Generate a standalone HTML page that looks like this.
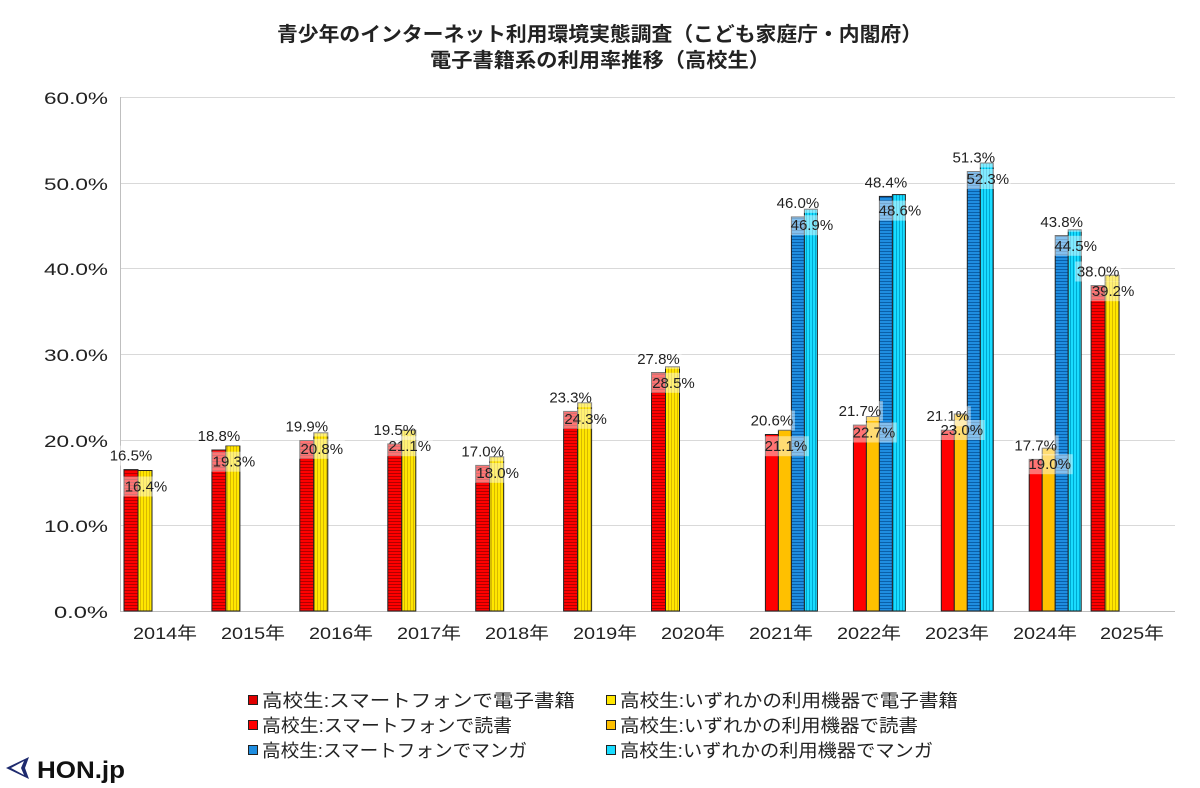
<!DOCTYPE html>
<html><head><meta charset="utf-8"><style>
html,body{margin:0;padding:0;background:#fff}
svg{display:block}
text{font-family:"Liberation Sans","Noto Sans CJK JP",sans-serif}
.t{font-size:20px;font-weight:bold;fill:#222}
.ax{font-size:17px;fill:#222}
.lb{font-size:15px;fill:#222;text-anchor:middle}
.lg{font-size:18px;fill:#222}
.bx{fill:#fff;fill-opacity:.45}
</style></head><body>
<svg width="1200" height="788" viewBox="0 0 1200 788" xmlns="http://www.w3.org/2000/svg">
<defs>
<pattern id="pr" width="4" height="3" patternUnits="userSpaceOnUse"><rect width="4" height="3" fill="#f00"/><rect y="2" width="4" height="1" fill="#b00000"/></pattern>
<pattern id="py" width="3" height="4" patternUnits="userSpaceOnUse"><rect width="3" height="4" fill="#ffe600"/><rect x="2" width="1" height="4" fill="#d8b800"/></pattern>
<pattern id="pb" width="4" height="3" patternUnits="userSpaceOnUse"><rect width="4" height="3" fill="#1f8de0"/><rect y="2" width="4" height="1" fill="#0a5fa8"/></pattern>
<pattern id="pc" width="3" height="4" patternUnits="userSpaceOnUse"><rect width="3" height="4" fill="#19dcff"/><rect x="2" width="1" height="4" fill="#00a8d0"/></pattern>
</defs>
<text class="t" x="277" y="41" textLength="645" lengthAdjust="spacingAndGlyphs">青少年のインターネット利用環境実態調査（こども家庭庁・内閣府）</text>
<text class="t" x="430" y="67" textLength="340" lengthAdjust="spacingAndGlyphs">電子書籍系の利用率推移（高校生）</text>
<g stroke="#d9d9d9" stroke-width="1">
<line x1="120" y1="97.5" x2="1175" y2="97.5"/><line x1="120" y1="183.5" x2="1175" y2="183.5"/><line x1="120" y1="268.5" x2="1175" y2="268.5"/><line x1="120" y1="354.5" x2="1175" y2="354.5"/><line x1="120" y1="440.5" x2="1175" y2="440.5"/><line x1="120" y1="525.5" x2="1175" y2="525.5"/>
</g>
<line x1="120.5" y1="97" x2="120.5" y2="611" stroke="#bfbfbf"/>
<line x1="120" y1="611.5" x2="1175" y2="611.5" stroke="#bfbfbf"/>
<g class="ax">
<text x="44" y="104" textLength="64" lengthAdjust="spacingAndGlyphs">60.0%</text><text x="44" y="190" textLength="64" lengthAdjust="spacingAndGlyphs">50.0%</text><text x="44" y="275" textLength="64" lengthAdjust="spacingAndGlyphs">40.0%</text><text x="44" y="361" textLength="64" lengthAdjust="spacingAndGlyphs">30.0%</text><text x="44" y="447" textLength="64" lengthAdjust="spacingAndGlyphs">20.0%</text><text x="44" y="532" textLength="64" lengthAdjust="spacingAndGlyphs">10.0%</text><text x="54" y="618" textLength="54" lengthAdjust="spacingAndGlyphs">0.0%</text>
</g>
<g class="ax">
<text x="133" y="639" textLength="64" lengthAdjust="spacingAndGlyphs">2014年</text><text x="221" y="639" textLength="64" lengthAdjust="spacingAndGlyphs">2015年</text><text x="309" y="639" textLength="64" lengthAdjust="spacingAndGlyphs">2016年</text><text x="397" y="639" textLength="64" lengthAdjust="spacingAndGlyphs">2017年</text><text x="485" y="639" textLength="64" lengthAdjust="spacingAndGlyphs">2018年</text><text x="573" y="639" textLength="64" lengthAdjust="spacingAndGlyphs">2019年</text><text x="661" y="639" textLength="64" lengthAdjust="spacingAndGlyphs">2020年</text><text x="749" y="639" textLength="64" lengthAdjust="spacingAndGlyphs">2021年</text><text x="837" y="639" textLength="64" lengthAdjust="spacingAndGlyphs">2022年</text><text x="925" y="639" textLength="64" lengthAdjust="spacingAndGlyphs">2023年</text><text x="1013" y="639" textLength="64" lengthAdjust="spacingAndGlyphs">2024年</text><text x="1100" y="639" textLength="64" lengthAdjust="spacingAndGlyphs">2025年</text>
</g>
<g stroke="#222" stroke-width="1">
<rect x="124" y="469.6" width="14" height="141.4" fill="url(#pr)"/><rect x="138" y="470.5" width="14" height="140.5" fill="url(#py)"/>
<rect x="211.9" y="450" width="14" height="161" fill="url(#pr)"/><rect x="225.9" y="445.7" width="14" height="165.3" fill="url(#py)"/>
<rect x="299.8" y="440.5" width="14" height="170.5" fill="url(#pr)"/><rect x="313.8" y="432.8" width="14" height="178.2" fill="url(#py)"/>
<rect x="387.8" y="443.9" width="14" height="167.1" fill="url(#pr)"/><rect x="401.8" y="430.2" width="14" height="180.8" fill="url(#py)"/>
<rect x="475.7" y="465.4" width="14" height="145.6" fill="url(#pr)"/><rect x="489.7" y="456.8" width="14" height="154.2" fill="url(#py)"/>
<rect x="563.6" y="411.4" width="14" height="199.6" fill="url(#pr)"/><rect x="577.6" y="402.8" width="14" height="208.2" fill="url(#py)"/>
<rect x="651.5" y="372.8" width="14" height="238.2" fill="url(#pr)"/><rect x="665.5" y="366.8" width="14" height="244.2" fill="url(#py)"/>
<rect x="1091.1" y="285.5" width="14" height="325.5" fill="url(#pr)"/><rect x="1105.1" y="275.2" width="14" height="335.8" fill="url(#py)"/>
<rect x="765.4" y="434.5" width="13" height="176.5" fill="#ff0000"/><rect x="778.4" y="430.2" width="13" height="180.8" fill="#ffc000"/><rect x="791.4" y="216.9" width="13" height="394.1" fill="url(#pb)"/><rect x="804.4" y="209.2" width="13" height="401.8" fill="url(#pc)"/>
<rect x="853.4" y="425.1" width="13" height="185.9" fill="#ff0000"/><rect x="866.4" y="416.5" width="13" height="194.5" fill="#ffc000"/><rect x="879.4" y="196.4" width="13" height="414.6" fill="url(#pb)"/><rect x="892.4" y="194.6" width="13" height="416.4" fill="url(#pc)"/>
<rect x="941.3" y="430.2" width="13" height="180.8" fill="#ff0000"/><rect x="954.3" y="414" width="13" height="197" fill="#ffc000"/><rect x="967.3" y="171.5" width="13" height="439.5" fill="url(#pb)"/><rect x="980.3" y="163" width="13" height="448" fill="url(#pc)"/>
<rect x="1029.2" y="459.4" width="13" height="151.6" fill="#ff0000"/><rect x="1042.2" y="448.2" width="13" height="162.8" fill="#ffc000"/><rect x="1055.2" y="235.8" width="13" height="375.2" fill="url(#pb)"/><rect x="1068.2" y="229.8" width="13" height="381.2" fill="url(#pc)"/>
</g>
<g>
<rect class="bx" x="108" y="445.6" width="46" height="20"/><text class="lb" x="131" y="460.6">16.5%</text>
<rect class="bx" x="123" y="476.5" width="46" height="20"/><text class="lb" x="146" y="491.5">16.4%</text>
<rect class="bx" x="195.9" y="426" width="46" height="20"/><text class="lb" x="218.9" y="441">18.8%</text>
<rect class="bx" x="210.9" y="451.7" width="46" height="20"/><text class="lb" x="233.9" y="466.7">19.3%</text>
<rect class="bx" x="283.8" y="416.5" width="46" height="20"/><text class="lb" x="306.8" y="431.5">19.9%</text>
<rect class="bx" x="298.8" y="438.8" width="46" height="20"/><text class="lb" x="321.8" y="453.8">20.8%</text>
<rect class="bx" x="371.8" y="419.9" width="46" height="20"/><text class="lb" x="394.8" y="434.9">19.5%</text>
<rect class="bx" x="386.8" y="436.2" width="46" height="20"/><text class="lb" x="409.8" y="451.2">21.1%</text>
<rect class="bx" x="459.7" y="441.4" width="46" height="20"/><text class="lb" x="482.7" y="456.4">17.0%</text>
<rect class="bx" x="474.7" y="462.8" width="46" height="20"/><text class="lb" x="497.7" y="477.8">18.0%</text>
<rect class="bx" x="547.6" y="387.4" width="46" height="20"/><text class="lb" x="570.6" y="402.4">23.3%</text>
<rect class="bx" x="562.6" y="408.8" width="46" height="20"/><text class="lb" x="585.6" y="423.8">24.3%</text>
<rect class="bx" x="635.5" y="348.8" width="46" height="20"/><text class="lb" x="658.5" y="363.8">27.8%</text>
<rect class="bx" x="650.5" y="372.8" width="46" height="20"/><text class="lb" x="673.5" y="387.8">28.5%</text>
<rect class="bx" x="748.9" y="410.5" width="46" height="20"/><text class="lb" x="771.9" y="425.5">20.6%</text>
<rect class="bx" x="762.9" y="436.2" width="46" height="20"/><text class="lb" x="785.9" y="451.2">21.1%</text>
<rect class="bx" x="774.9" y="192.9" width="46" height="20"/><text class="lb" x="797.9" y="207.9">46.0%</text>
<rect class="bx" x="788.9" y="215.2" width="46" height="20"/><text class="lb" x="811.9" y="230.2">46.9%</text>
<rect class="bx" x="836.9" y="401.1" width="46" height="20"/><text class="lb" x="859.9" y="416.1">21.7%</text>
<rect class="bx" x="850.9" y="422.5" width="46" height="20"/><text class="lb" x="873.9" y="437.5">22.7%</text>
<rect class="bx" x="862.9" y="172.4" width="46" height="20"/><text class="lb" x="885.9" y="187.4">48.4%</text>
<rect class="bx" x="876.9" y="200.6" width="46" height="20"/><text class="lb" x="899.9" y="215.6">48.6%</text>
<rect class="bx" x="924.8" y="406.2" width="46" height="20"/><text class="lb" x="947.8" y="421.2">21.1%</text>
<rect class="bx" x="938.8" y="420" width="46" height="20"/><text class="lb" x="961.8" y="435">23.0%</text>
<rect class="bx" x="950.8" y="147.5" width="46" height="20"/><text class="lb" x="973.8" y="162.5">51.3%</text>
<rect class="bx" x="964.8" y="169" width="46" height="20"/><text class="lb" x="987.8" y="184">52.3%</text>
<rect class="bx" x="1012.7" y="435.4" width="46" height="20"/><text class="lb" x="1035.7" y="450.4">17.7%</text>
<rect class="bx" x="1026.7" y="454.2" width="46" height="20"/><text class="lb" x="1049.7" y="469.2">19.0%</text>
<rect class="bx" x="1038.7" y="211.8" width="46" height="20"/><text class="lb" x="1061.7" y="226.8">43.8%</text>
<rect class="bx" x="1052.7" y="235.8" width="46" height="20"/><text class="lb" x="1075.7" y="250.8">44.5%</text>
<rect class="bx" x="1075.1" y="261.5" width="46" height="20"/><text class="lb" x="1098.1" y="276.5">38.0%</text>
<rect class="bx" x="1090.1" y="281.2" width="46" height="20"/><text class="lb" x="1113.1" y="296.2">39.2%</text>
</g>
<g stroke="#222" stroke-width="1">
<rect x="248.5" y="695.5" width="9" height="9" fill="#e00000"/><rect x="248.5" y="720.5" width="9" height="9" fill="#ff0000"/><rect x="248.5" y="745.5" width="9" height="9" fill="#1f8de0"/>
<rect x="606.5" y="695.5" width="9" height="9" fill="#ffe600"/><rect x="606.5" y="720.5" width="9" height="9" fill="#ffc000"/><rect x="606.5" y="745.5" width="9" height="9" fill="#19dcff"/>
</g>
<g class="lg">
<text x="262" y="707" textLength="313" lengthAdjust="spacingAndGlyphs">高校生:スマートフォンで電子書籍</text>
<text x="262" y="732" textLength="250" lengthAdjust="spacingAndGlyphs">高校生:スマートフォンで読書</text>
<text x="262" y="757" textLength="265" lengthAdjust="spacingAndGlyphs">高校生:スマートフォンでマンガ</text>
<text x="620" y="707" textLength="338" lengthAdjust="spacingAndGlyphs">高校生:いずれかの利用機器で電子書籍</text>
<text x="620" y="732" textLength="298" lengthAdjust="spacingAndGlyphs">高校生:いずれかの利用機器で読書</text>
<text x="620" y="757" textLength="313" lengthAdjust="spacingAndGlyphs">高校生:いずれかの利用機器でマンガ</text>
</g>
<path d="M29 757 L6 768 L29 779 L25 768 Z M24 761 L11 768 L24 775 L21 768 Z" fill="#1e2a6e" fill-rule="evenodd"/>
<text x="37" y="778" textLength="88" lengthAdjust="spacingAndGlyphs" style="font-size:24px;font-weight:bold;fill:#111">HON.jp</text>
</svg>
</body></html>
